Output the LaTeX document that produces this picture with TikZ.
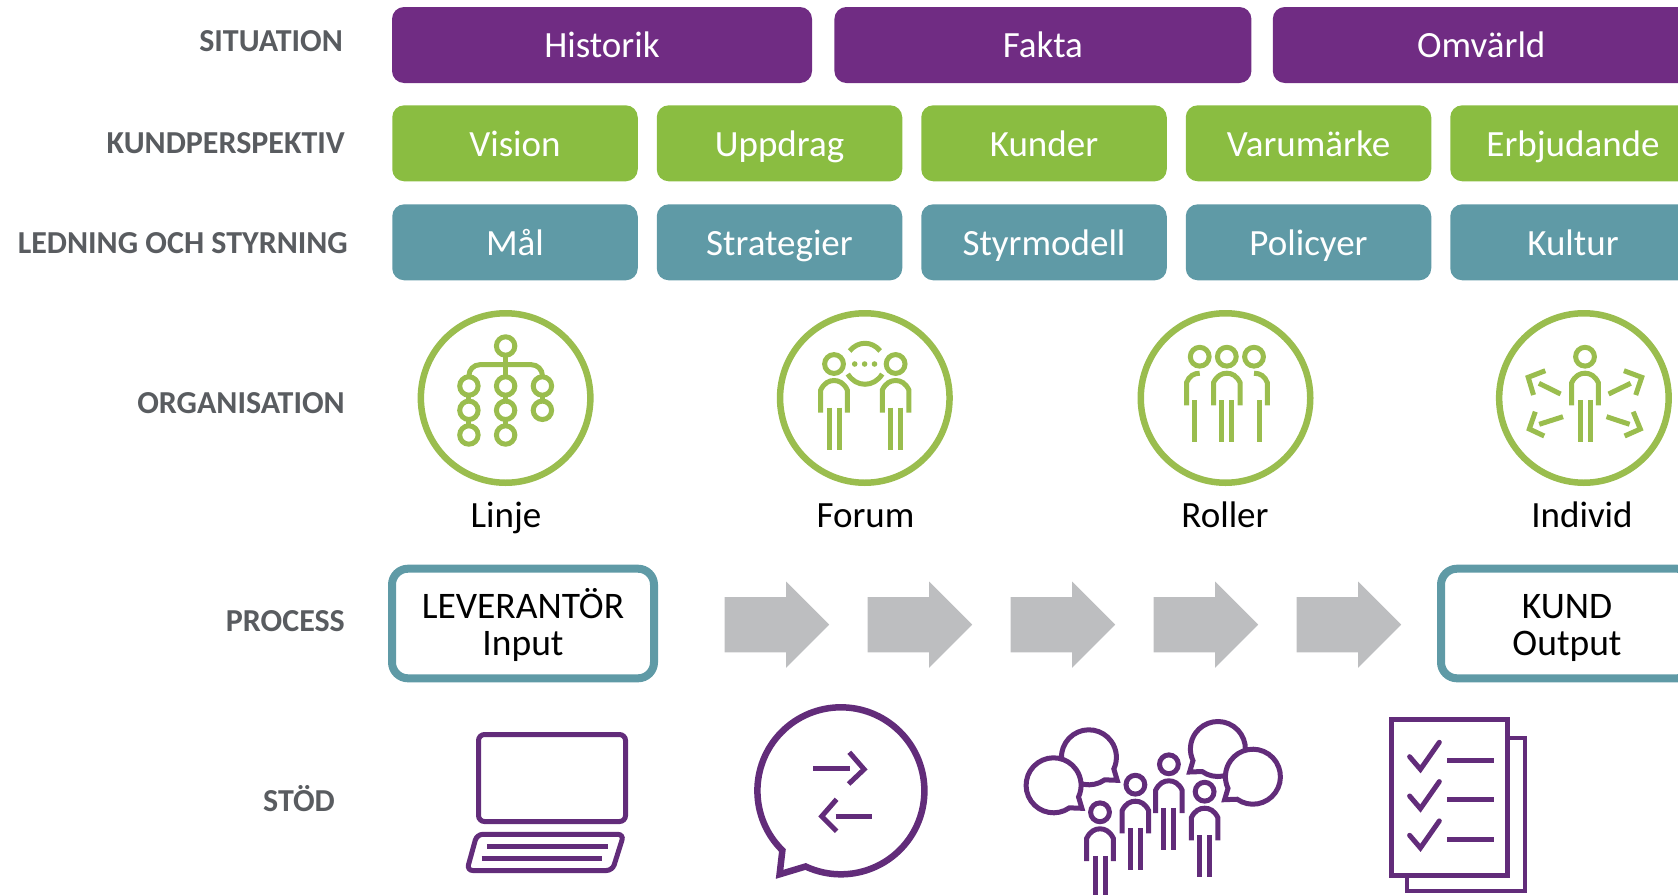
\documentclass[tikz,border=0pt]{standalone}
\usepackage{fontspec}
\setmainfont{Carlito}
\usetikzlibrary{shapes.arrows, positioning}

\definecolor{sitcol}{HTML}{702C83}
\definecolor{kundcol}{HTML}{8ABD41}
\definecolor{ledcol}{HTML}{5F9AA6}
\definecolor{orgcol}{HTML}{9ABD4E}
\definecolor{stodcol}{HTML}{622C7A}
\definecolor{arrcol}{HTML}{BDBEC0}
\definecolor{rowcol}{HTML}{595C60}

\tikzset{
	rowlabel/.style={anchor=base east, inner sep=0pt, text=rowcol, font=\fontsize{32}{34}\selectfont\bfseries},
	box/.style={rounded corners=12pt, minimum height=76pt, inner sep=0pt, text height=31.5pt, text depth=5.4pt,
		text=white, font=\fontsize{37}{39}\selectfont},
	sitbox/.style={box, fill=sitcol, minimum width=417pt, text height=30pt},
	kundbox/.style={box, fill=kundcol, minimum width=245.5pt},
	ledbox/.style={box, fill=ledcol, minimum width=245.5pt},
	orgring/.style={circle, draw=orgcol, line width=6.5pt, minimum size=169.5pt, inner sep=0pt},
	orglabel/.style={anchor=base, inner sep=0pt, font=\fontsize{37}{39}\selectfont},
	endbox/.style={rounded corners=16pt, draw=ledcol, line width=8pt, minimum width=262pt, minimum height=109.6pt,
		inner sep=0pt, align=center, font=\fontsize{37.5}{37.3}\selectfont},
	procarrow/.style={single arrow, fill=arrcol, inner xsep=0pt, inner ysep=27.5pt, minimum height=104.5pt,
		single arrow head extend=15.5pt, single arrow head indent=0pt},
	orgicon/.style={color=orgcol, line width=5pt},
	stodicon/.style={color=stodcol, line width=5pt},
}

\newcommand{\twolines}[2]{\rule{0pt}{37.9pt}#1\\#2\rule[-11.2pt]{0pt}{11.2pt}}
\newcommand{\person}[2]{%
	\begin{scope}[shift={(#1,#2)}]
		\draw (0,0) circle[radius=9.4];
		\draw (-13.3,48.7) -- (-13.3,26) .. controls (-10,19) and (-5,16.5) .. (0,16.5)
			.. controls (5,16.5) and (10,19) .. (13.3,26) -- (13.3,48.7);
		\draw (-5,43.5) -- (-5,85.5);
		\draw (5,43.5) -- (5,85.5);
	\end{scope}
}
\newcommand{\chatbubble}[3]{%
	\begin{scope}[shift={(#1,#2)}, xscale=#3]
		\draw[fill=white] (55:27.5) arc[start angle=55, end angle=385, radius=27.5] -- (28.3,23) -- cycle;
	\end{scope}
}

\begin{document}
\begin{tikzpicture}[x=1pt, y=-1pt]
\clip (0,0) rectangle (1678,894);

% row names
\node[rowlabel] (rsit) at (343,51.7) {SITUATION};
\node[rowlabel] (rkund) at (345,153) {KUNDPERSPEKTIV};
\node[rowlabel] (rled) at (348,253.3) {LEDNING OCH STYRNING};
\node[rowlabel] (rorg) at (345,413.6) {ORGANISATION};
\node[rowlabel] (rproc) at (345,631.9) {PROCESS};
\node[rowlabel] (rstod) at (335,811) {STÖD};

% top rows
\node[sitbox, minimum width=420pt] (s1) at (602,45) {Historik};
\node[sitbox, right=22pt of s1] (s2) {Fakta};
\node[sitbox, right=21pt of s2] (s3) {Omvärld};

\node[kundbox] (k1) at (515,143.3) {Vision};
\node[kundbox, right=18.6pt of k1] (k2) {Uppdrag};
\node[kundbox, right=18.6pt of k2] (k3) {Kunder};
\node[kundbox, right=18.6pt of k3] (k4) {Varumärke};
\node[kundbox, right=18.6pt of k4] (k5) {Erbjudande};

\node[ledbox] (l1) at (515,242.3) {Mål};
\node[ledbox, right=18.6pt of l1] (l2) {Strategier};
\node[ledbox, right=18.6pt of l2] (l3) {Styrmodell};
\node[ledbox, right=18.6pt of l3] (l4) {Policyer};
\node[ledbox, right=18.6pt of l4] (l5) {Kultur};

% organisation
\node[orgring] (o1) at (505.6,398) {};
\node[orgring] (o2) at (864.8,398) {};
\node[orgring] (o3) at (1225.5,398) {};
\node[orgring] (o4) at (1583.9,398) {};
\node[orglabel] (t1) at (506,527.7) {Linje};
\node[orglabel] (t2) at (865.5,527.7) {Forum};
\node[orglabel] (t3) at (1225,527.7) {Roller};
\node[orglabel] (t4) at (1582,527.7) {Individ};

\begin{scope}[orgicon]
	% Linje
	\draw (505.6,346) circle[radius=9.2];
	\draw (468.9,386) circle[radius=9.2];
	\draw (468.9,410.3) circle[radius=9.2];
	\draw (468.9,435) circle[radius=9.2];
	\draw (505.6,386) circle[radius=9.2];
	\draw (505.6,410.3) circle[radius=9.2];
	\draw (505.6,435) circle[radius=9.2];
	\draw (542.4,386) circle[radius=9.2];
	\draw (542.4,410.3) circle[radius=9.2];
	\draw (505.6,355) -- (505.6,377);
	\draw[rounded corners=11pt] (468.9,377) |- (542.4,364.7) -- (542.4,377);
	\draw (468.9,395) -- (468.9,401);
	\draw (468.9,419.5) -- (468.9,426);
	\draw (505.6,395) -- (505.6,401);
	\draw (505.6,419.5) -- (505.6,426);
	\draw (542.4,395) -- (542.4,401);
	% Forum
	\person{834}{364}
	\person{895.6}{364}
	\draw (849.7,351) .. controls (858,340.7) and (872,340.7) .. (880.2,351);
	\draw (847.8,374) .. controls (856,387.7) and (874,387.7) .. (882.2,374);
	\fill (854.7,364) circle[radius=2.8];
	\fill (864.6,364) circle[radius=2.8];
	\fill (874.5,364) circle[radius=2.8];
	% Roller
	\person{1226.8}{356.7}
	\draw (1199.7,356.7) circle[radius=9.4];
	\draw (1254,356.7) circle[radius=9.4];
	\draw (1199.7,373.2) .. controls (1194,373.2) and (1189,376) .. (1186.5,382.7) -- (1186.5,405.4);
	\draw (1194.6,400.2) -- (1194.6,442.2);
	\draw (1254,373.2) .. controls (1260,373.2) and (1265,376) .. (1267.3,382.7) -- (1267.3,405.4);
	\draw (1259.3,400.2) -- (1259.3,442.2);
	% Individ
	\person{1585}{356.7}
	\draw (1545.3,370.7) -- (1528.2,377.3) -- (1533.5,395);
	\draw (1538.9,383.3) -- (1560.6,394);
	\draw (1623.9,370.7) -- (1641.7,377.3) -- (1635.7,395);
	\draw (1630.7,383.3) -- (1608.6,394);
	\draw (1535.3,411.7) -- (1529.3,429) -- (1544.2,436);
	\draw (1539.2,424.3) -- (1563,416.7);
	\draw (1633.2,411.7) -- (1640.3,429) -- (1624.6,436);
	\draw (1629.6,424.3) -- (1606.5,416.7);
\end{scope}

% process
\node[endbox] (lev) at (523,623.5) {\twolines{LEVERANTÖR}{Input}};
\node[endbox, minimum width=252pt] (kund) at (1567,623.5) {\twolines{KUND}{Output}};
\node[procarrow] (p1) at (763.1,624.7) {};
\node[procarrow] (p2) at (906.1,624.7) {};
\node[procarrow] (p3) at (1049.1,624.7) {};
\node[procarrow] (p4) at (1192.1,624.7) {};
\node[procarrow] (p5) at (1335.1,624.7) {};

\begin{scope}[stodicon]
	% laptop
	\draw[rounded corners=6pt] (478.5,734.5) rectangle (625.5,821.5);
	\draw[rounded corners=6pt] (476.9,834.3) -- (623.8,834.3) -- (612.4,870.5) -- (466.9,870.5) -- cycle;
	\draw (486.9,846.3) -- (607.9,846.3);
	\draw (481.7,858.3) -- (602.4,858.3);
	% talk bubble
	\draw[line width=6.5pt, miter limit=10] (840.9,790.8)+(134.5:83.5) arc[start angle=134.5, end angle=475, radius=83.5]
		-- (779.6,874.3) -- cycle;
	\draw (813.4,768.3) -- (850,768.3);
	\draw (849.3,752.3) -- (864.1,769.3) -- (848.6,784);
	\draw (835.5,816) -- (872,816);
	\draw (836.6,799.3) -- (821.7,816.3) -- (836.6,831.3);
	% crowd
	\chatbubble{1088.9}{757.3}{1}
	\chatbubble{1053.6}{785.3}{1}
	\chatbubble{1217.9}{749}{-1}
	\chatbubble{1252.9}{776.7}{-1}
	\person{1100}{812.3}
	\person{1135.4}{784.7}
	\person{1168.9}{764.3}
	\person{1204.6}{791.7}
	% checklist
	\draw[line width=4pt] (1407,875) -- (1407,891) -- (1525,891) -- (1525,738) -- (1507,738);
	\draw[fill=white] (1391.8,719.2) rectangle (1507.5,875.2);
	\draw[line cap=round] (1409.6,756.7) -- (1420.4,769.3) -- (1439.3,742.3);
	\draw[line cap=round] (1409.6,796) -- (1420.4,808.6) -- (1439.3,781.6);
	\draw[line cap=round] (1409.6,835.3) -- (1420.4,847.9) -- (1439.3,820.9);
	\draw (1447.1,760.3) -- (1493.9,760.3);
	\draw (1447.1,799.7) -- (1493.9,799.7);
	\draw (1447.1,839) -- (1493.9,839);
\end{scope}
\end{tikzpicture}
\end{document}
